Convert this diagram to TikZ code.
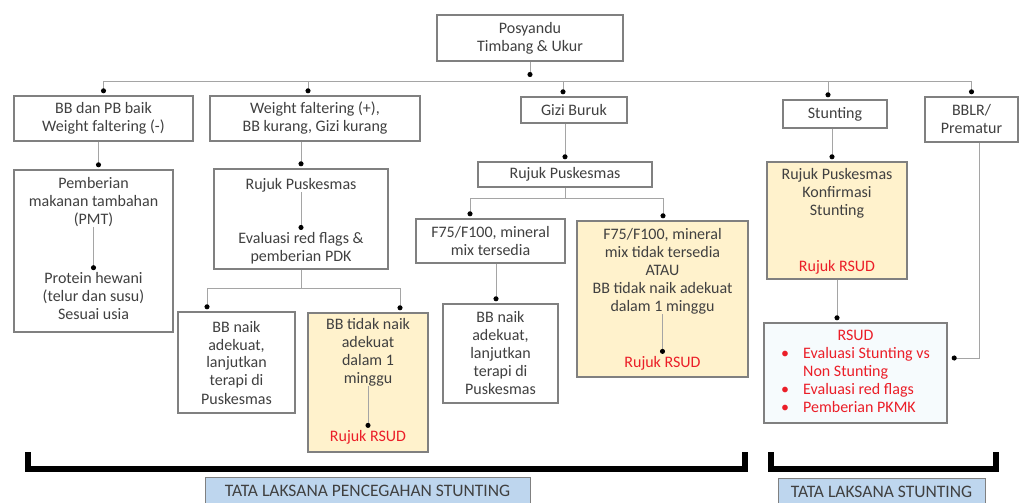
\documentclass[tikz,border=0pt]{standalone}
\usepackage{fontspec}
\setmainfont{Carlito}
\usetikzlibrary{arrows.meta,positioning}
\definecolor{textgray}{RGB}{64,64,64}
\definecolor{linegray}{RGB}{128,128,128}
\definecolor{wiregray}{RGB}{165,165,165}
\definecolor{softyellow}{RGB}{255,242,204}
\definecolor{softcyan}{RGB}{246,251,253}
\definecolor{labelblue}{RGB}{190,214,238}
\definecolor{alertred}{RGB}{235,30,40}

\begin{document}
\begin{tikzpicture}[x=1pt, y=-1pt,
font=\fontsize{16}{18}\selectfont, text=textgray,
box/.style={draw=linegray, line width=1.4pt, fill=white, align=center, inner sep=2pt},
ybox/.style={box, fill=softyellow},
txt/.style={align=center, inner sep=0pt},
wire/.style={wiregray, line width=0.9pt},
link/.style={wire, -{Circle[length=5pt,color=black]}, shorten >=2pt},
twin/.style={wire, {Circle[length=5pt,color=black]}-{Circle[length=5pt,color=black]}, shorten >=2pt, shorten <=2pt},
bracket/.style={line width=6pt, black},
tag/.style={draw=linegray, line width=1pt, fill=labelblue, minimum height=28pt, text=black!75, font=\fontsize{17.5}{19}\selectfont}
]
\useasboundingbox (0,0) rectangle (1020,503);

\node[box, minimum width=186pt, minimum height=46pt] (posy) at (530,38) {Posyandu\\Timbang \& Ukur};

\node[box, minimum width=179pt, minimum height=45pt] (bbok) at (103.5,118.5) {BB dan PB baik\\Weight faltering (-)};
\node[box, minimum width=210pt, minimum height=45pt] (wfalt) at (315,118.5) {Weight faltering (+),\\BB kurang, Gizi kurang};
\node[box, minimum width=106pt, minimum height=26pt] (gbur) at (574,110) {Gizi Buruk};
\node[box, minimum width=104pt, minimum height=28pt] (stnt) at (835,114) {Stunting};
\node[box, minimum width=93pt, minimum height=45pt] (bblr) at (971.5,119.5) {BBLR/\\Prematur};

\node[box, minimum width=159pt, minimum height=162pt] (pmt) at (93.5,251) {};
\node[txt] (pmtA) at (93.5,202) {Pemberian\\makanan tambahan\\(PMT)};
\node[txt] (pmtB) at (93.5,296) {Protein hewani\\(telur dan susu)\\Sesuai usia};

\node[box, minimum width=174pt, minimum height=100pt] (rjk1) at (301,219) {};
\node[txt] (rjk1A) at (301,185) {Rujuk Puskesmas};
\node[txt] (rjk1B) at (301,248) {Evaluasi red flags \&\\pemberian PDK};

\node[box, minimum width=174pt, minimum height=25pt] (rjk2) at (565,174.5) {Rujuk Puskesmas};

\node[ybox, minimum width=140pt, minimum height=117pt] (konf) at (837,220.5) {};
\node[txt] (konfA) at (837,193) {Rujuk Puskesmas\\Konfirmasi\\Stunting};
\node[txt, text=alertred] (konfB) at (837,267) {Rujuk RSUD};

\node[box, minimum width=117pt, minimum height=101pt] (naik1) at (236.5,362.5) {BB naik\\adekuat,\\lanjutkan\\terapi di\\Puskesmas};
\node[ybox, minimum width=120pt, minimum height=139pt] (tdk1) at (368,382.5) {};
\node[txt] (tdk1A) at (368,352) {BB tidak naik\\adekuat\\dalam 1\\minggu};
\node[txt, text=alertred] (tdk1B) at (368,437) {Rujuk RSUD};

\node[box, minimum width=149pt, minimum height=44pt] (f75a) at (490.5,241) {F75/F100, mineral\\mix tersedia};
\node[ybox, minimum width=171pt, minimum height=156pt] (f75b) at (662.5,299) {};
\node[txt] (f75bA) at (662.5,271) {F75/F100, mineral\\mix tidak tersedia\\ATAU\\BB tidak naik adekuat\\dalam 1 minggu};
\node[txt, text=alertred] (f75bB) at (662.5,363) {Rujuk RSUD};
\node[box, minimum width=115pt, minimum height=99pt] (naik2) at (500.5,353.5) {BB naik\\adekuat,\\lanjutkan\\terapi di\\Puskesmas};

\node[box, fill=softcyan, minimum width=183pt, minimum height=100pt, text=alertred] (rsud) at (855.5,373) {%
\begin{tabular}{@{}l@{\hspace{14pt}}l@{}}
\multicolumn{2}{@{}c@{}}{RSUD}\\
\textbullet & Evaluasi Stunting vs\\
 & Non Stunting\\
\textbullet & Evaluasi red flags\\
\textbullet & Pemberian PKMK
\end{tabular}};

\coordinate (hub) at (530,81);
\draw[link, shorten >=4pt] (posy) -- (hub);
\draw[wire] (bbok.north |- hub) -- (bblr.north |- hub);
\draw[link] (bbok.north |- hub) -- (bbok.north);
\draw[link] ([xshift=-7pt]wfalt.north |- hub) -- ([xshift=-7pt]wfalt.north);
\draw[link] ([xshift=-11pt]gbur.north |- hub) -- ([xshift=-11pt]gbur.north);
\draw[link] ([xshift=-7pt]stnt.north |- hub) -- ([xshift=-7pt]stnt.north);
\draw[link] (bblr.north |- hub) -- (bblr.north);

\draw[link] ([xshift=-5pt]bbok.south) -- ([xshift=-5pt]bbok.south |- pmt.north);
\draw[link] (pmtA) -- (pmtB);
\draw[link] (rjk1.north |- wfalt.south) -- (rjk1.north);
\draw[link] (rjk1A) -- (rjk1B);

\coordinate (fork1L) at (207,288);
\coordinate (fork1R) at (400,288);
\draw[wire] (rjk1.south) -- (rjk1.south |- fork1L);
\draw[twin] (fork1L |- naik1.north) -- (fork1L) -- (fork1R) -- (fork1R |- tdk1.north);
\draw[link] (tdk1A) -- (tdk1B);

\draw[link] (rjk2.north |- gbur.south) -- (rjk2.north);
\coordinate (fork2L) at (470,198);
\coordinate (fork2R) at (663,198);
\draw[wire] (rjk2.south) -- (rjk2.south |- fork2L);
\draw[twin] (fork2L |- f75a.north) -- (fork2L) -- (fork2R) -- (fork2R |- f75b.north);
\draw[link] ([xshift=5.5pt]f75a.south) -- ([xshift=5.5pt]f75a.south |- naik2.north);
\draw[link] (f75bA) -- (f75bB);

\draw[link] ([xshift=-5pt]konf.north |- stnt.south) -- ([xshift=-5pt]konf.north);
\draw[link] (konf.south) -- (konf.south |- rsud.north);
\draw[link, shorten >=4pt] ([xshift=7.5pt]bblr.south) |- ([yshift=15pt]rsud.east);

\draw[bracket] (27.5,452) -- (27.5,469) -- (745,469) -- (745,452);
\draw[bracket] (771,452) -- (771,469) -- (996,469) -- (996,452);

\node[tag, minimum width=325pt] (prev) at (367.5,491) {TATA LAKSANA PENCEGAHAN STUNTING};
\node[tag, minimum width=207pt] (treat) at (881.5,492) {TATA LAKSANA STUNTING};
\end{tikzpicture}
\end{document}
